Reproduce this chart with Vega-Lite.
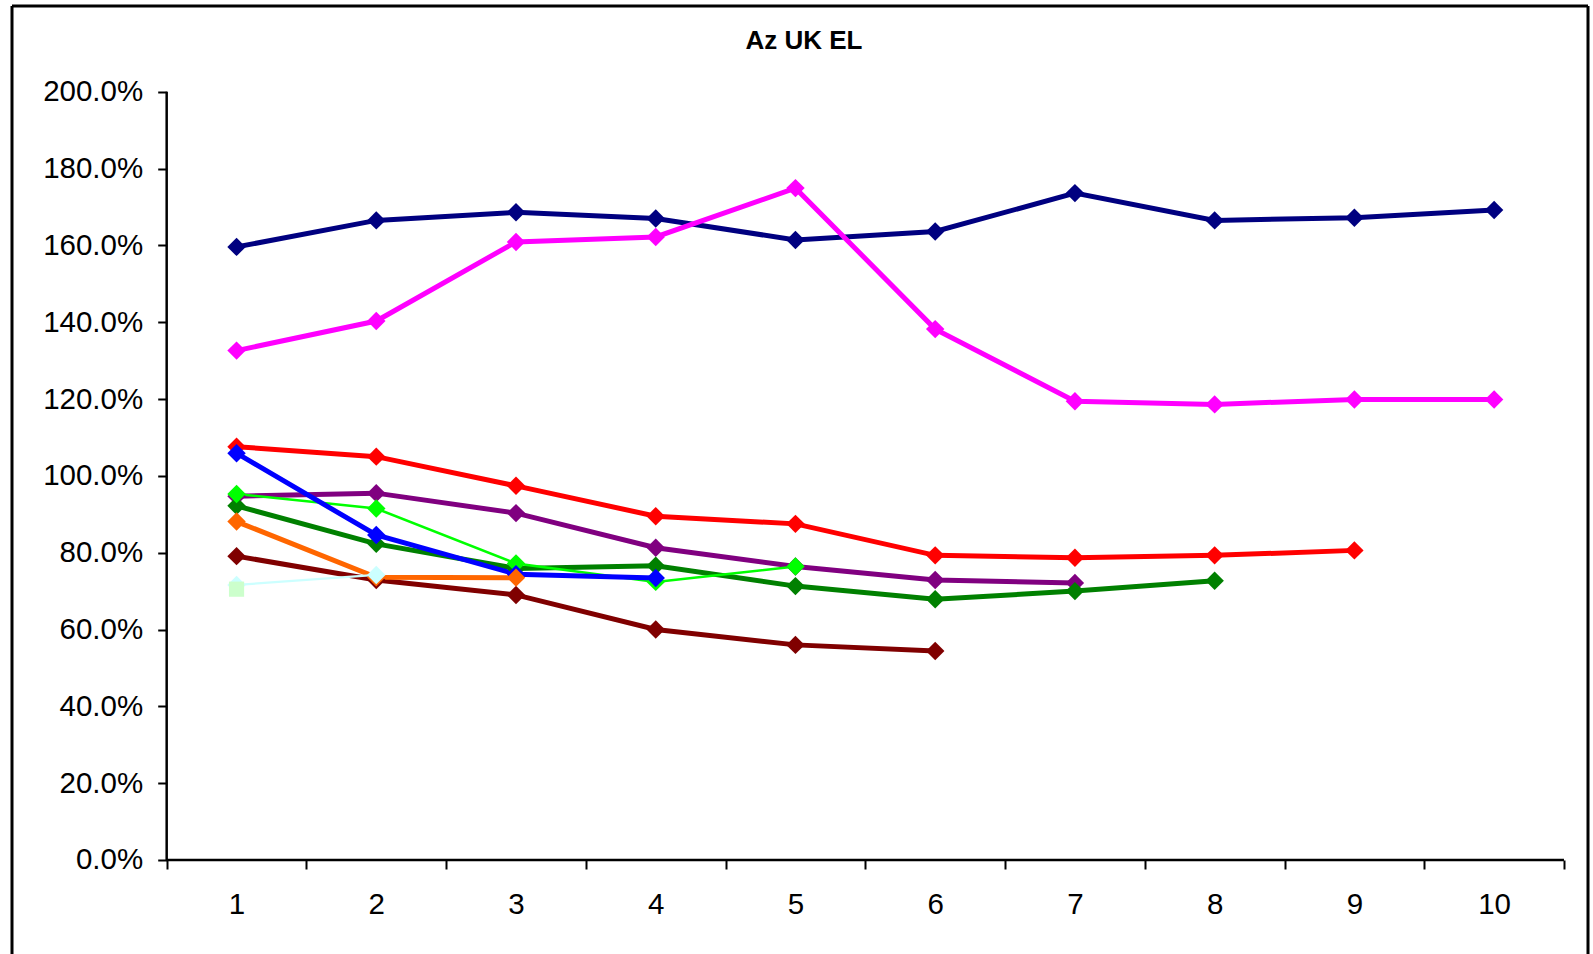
{
  "$schema": "https://vega.github.io/schema/vega-lite/v6.json",
  "autosize": "none",
  "padding": {"left": 12, "top": 6, "right": 5, "bottom": 0},
  "width": 1576,
  "height": 948,
  "background": "white",
  "config": {
    "view": {"stroke": null},
    "font": "Liberation Sans",
    "axis": {"grid": false, "domain": false, "labelFont": "Liberation Sans", "labelColor": "black", "labelFontSize": 29.5, "tickColor": "black", "tickWidth": 2, "title": null}
  },
  "title": {
    "text": "Az UK EL",
    "font": "Liberation Sans",
    "fontSize": 26,
    "fontWeight": "bold",
    "color": "black",
    "anchor": "middle",
    "frame": "group",
    "baseline": "alphabetic",
    "offset": -42,
    "dx": 4,
    "dy": 28
  },
  "datasets": {
    "series": [
      {"series": "S1", "x": 1, "v": 1.596}, {"series": "S1", "x": 2, "v": 1.665}, {"series": "S1", "x": 3, "v": 1.686}, {"series": "S1", "x": 4, "v": 1.670}, {"series": "S1", "x": 5, "v": 1.614}, {"series": "S1", "x": 6, "v": 1.636}, {"series": "S1", "x": 7, "v": 1.736}, {"series": "S1", "x": 8, "v": 1.665}, {"series": "S1", "x": 9, "v": 1.672}, {"series": "S1", "x": 10, "v": 1.692},
      {"series": "S2", "x": 1, "v": 1.326}, {"series": "S2", "x": 2, "v": 1.403}, {"series": "S2", "x": 3, "v": 1.609}, {"series": "S2", "x": 4, "v": 1.622}, {"series": "S2", "x": 5, "v": 1.749}, {"series": "S2", "x": 6, "v": 1.382}, {"series": "S2", "x": 7, "v": 1.194}, {"series": "S2", "x": 8, "v": 1.186}, {"series": "S2", "x": 9, "v": 1.199}, {"series": "S2", "x": 10, "v": 1.199},
      {"series": "S3", "x": 1, "v": 1.076}, {"series": "S3", "x": 2, "v": 1.050}, {"series": "S3", "x": 3, "v": 0.974}, {"series": "S3", "x": 4, "v": 0.895}, {"series": "S3", "x": 5, "v": 0.875}, {"series": "S3", "x": 6, "v": 0.793}, {"series": "S3", "x": 7, "v": 0.787}, {"series": "S3", "x": 8, "v": 0.793}, {"series": "S3", "x": 9, "v": 0.806},
      {"series": "S4", "x": 1, "v": 0.947}, {"series": "S4", "x": 2, "v": 0.955}, {"series": "S4", "x": 3, "v": 0.903}, {"series": "S4", "x": 4, "v": 0.813}, {"series": "S4", "x": 5, "v": 0.764}, {"series": "S4", "x": 6, "v": 0.729}, {"series": "S4", "x": 7, "v": 0.721},
      {"series": "S5", "x": 1, "v": 0.922}, {"series": "S5", "x": 2, "v": 0.823}, {"series": "S5", "x": 3, "v": 0.759}, {"series": "S5", "x": 4, "v": 0.766}, {"series": "S5", "x": 5, "v": 0.713}, {"series": "S5", "x": 6, "v": 0.679}, {"series": "S5", "x": 7, "v": 0.700}, {"series": "S5", "x": 8, "v": 0.727},
      {"series": "S9", "x": 1, "v": 0.791}, {"series": "S9", "x": 2, "v": 0.729}, {"series": "S9", "x": 3, "v": 0.690}, {"series": "S9", "x": 4, "v": 0.600}, {"series": "S9", "x": 5, "v": 0.560}, {"series": "S9", "x": 6, "v": 0.544},
      {"series": "S6", "x": 1, "v": 0.953}, {"series": "S6", "x": 2, "v": 0.915}, {"series": "S6", "x": 3, "v": 0.772}, {"series": "S6", "x": 4, "v": 0.724}, {"series": "S6", "x": 5, "v": 0.764},
      {"series": "S7", "x": 1, "v": 1.059}, {"series": "S7", "x": 2, "v": 0.846}, {"series": "S7", "x": 3, "v": 0.744}, {"series": "S7", "x": 4, "v": 0.734},
      {"series": "S8", "x": 1, "v": 0.881}, {"series": "S8", "x": 2, "v": 0.736}, {"series": "S8", "x": 3, "v": 0.735},
      {"series": "S10", "x": 1, "v": 0.716}, {"series": "S10", "x": 2, "v": 0.742},
      {"series": "S11", "x": 1, "v": 0.705}
    ],
    "axislines": [
      {"x": 0.5, "x2": 0.5, "y": 0, "y2": 2},
      {"x": 0.5, "x2": 10.5, "y": 0, "y2": 0}
    ],
    "frame": [
      {"x": -0.607, "x2": -0.607, "y": -0.2447, "y2": 2.2231},
      {"x": 10.672, "x2": 10.672, "y": -0.2447, "y2": 2.2231},
      {"x": -0.607, "x2": 10.672, "y": 2.2231, "y2": 2.2231}
    ]
  },
  "layer": [
    {
      "data": {"name": "frame"},
      "mark": {"type": "rule", "color": "black", "strokeWidth": 3},
      "encoding": {
        "x": {"field": "x", "type": "quantitative", "scale": {"domain": [-0.607, 10.672], "nice": false, "zero": false}},
        "x2": {"field": "x2"},
        "y": {"field": "y", "type": "quantitative", "scale": {"domain": [-0.2447, 2.2231], "nice": false, "zero": false}},
        "y2": {"field": "y2"}
      }
    },
    {
      "data": {"name": "axislines"},
      "mark": {"type": "rule", "color": "black", "strokeWidth": 2.5},
      "encoding": {
        "x": {"field": "x", "type": "quantitative"},
        "x2": {"field": "x2"},
        "y": {"field": "y", "type": "quantitative"},
        "y2": {"field": "y2"}
      }
    },
    {
      "data": {"name": "series"},
      "mark": {"type": "line", "interpolate": "linear"},
      "encoding": {
        "x": {
          "field": "x", "type": "quantitative",
          "axis": {
            "orient": "bottom", "offset": -94,
            "values": [0.5, 1.5, 2.5, 3.5, 4.5, 5.5, 6.5, 7.5, 8.5, 9.5, 10.5],
            "tickSize": 9, "labelPadding": 21,
            "labelOffset": 69.87,
            "labelExpr": "datum.value > 10 ? '' : format(datum.value + 0.5, 'd')",
            "labelAlign": "center", "labelBaseline": "top", "labelFlush": false, "labelOverlap": false, "labelBound": false
          }
        },
        "y": {
          "field": "v", "type": "quantitative",
          "axis": {
            "orient": "left", "offset": -154.7,
            "values": [0, 0.2, 0.4, 0.6, 0.8, 1.0, 1.2, 1.4, 1.6, 1.8, 2.0],
            "format": ".1%",
            "tickSize": 9, "labelPadding": 15,
            "labelFlush": false, "labelOverlap": false, "labelBound": false
          }
        },
        "color": {
          "field": "series", "type": "nominal", "legend": null,
          "scale": {
            "domain": ["S1", "S2", "S3", "S4", "S5", "S9", "S6", "S7", "S8", "S10", "S11"],
            "range": ["#000080", "#FF00FF", "#FF0000", "#800080", "#008000", "#800000", "#00FF00", "#0000FF", "#FF6600", "#CCFFFF", "#CCFFCC"]
          }
        },
        "strokeWidth": {
          "field": "series", "type": "nominal", "legend": null,
          "scale": {
            "type": "ordinal",
            "domain": ["S1", "S2", "S3", "S4", "S5", "S9", "S6", "S7", "S8", "S10", "S11"],
            "range": [5, 5, 5, 5, 5, 5, 2.5, 5, 5, 2.25, 2]
          }
        }
      }
    },
    {
      "data": {"name": "series"},
      "mark": {"type": "point", "filled": true, "opacity": 1},
      "encoding": {
        "x": {"field": "x", "type": "quantitative"},
        "y": {"field": "v", "type": "quantitative"},
        "color": {"field": "series", "type": "nominal", "legend": null},
        "shape": {
          "field": "series", "type": "nominal", "legend": null,
          "scale": {
            "domain": ["S1", "S2", "S3", "S4", "S5", "S9", "S6", "S7", "S8", "S10", "S11"],
            "range": ["diamond", "diamond", "diamond", "diamond", "diamond", "diamond", "diamond", "diamond", "diamond", "diamond", "square"]
          }
        },
        "size": {
          "field": "series", "type": "nominal", "legend": null,
          "scale": {
            "type": "ordinal",
            "domain": ["S1", "S2", "S3", "S4", "S5", "S9", "S6", "S7", "S8", "S10", "S11"],
            "range": [340, 340, 340, 340, 340, 340, 340, 340, 340, 340, 230]
          }
        }
      }
    }
  ]
}
